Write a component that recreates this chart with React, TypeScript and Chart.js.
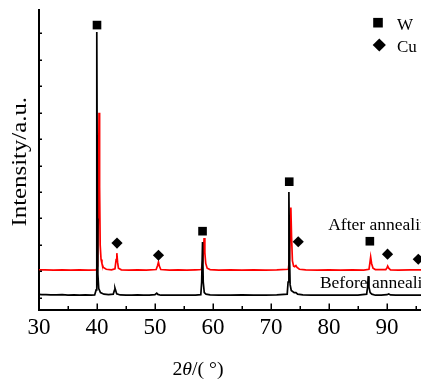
import React, { useEffect, useRef } from "react";
import { Chart, registerables } from "chart.js";

Chart.register(...registerables);

// ---- data ----
const xMajorTicks = [30, 40, 50, 60, 70, 80, 90];
const xMinorTicks = [35, 45, 55, 65, 75, 85, 95];
const yTickValues = [0, 1, 2, 3, 4, 5, 6, 7, 8, 9, 10];

const beforeX = [
  30.0, 30.5, 31.2, 32.0, 33.0, 34.0, 35.0, 36.0, 37.0, 38.0, 39.0, 39.6, 39.85, 39.93, 40.0, 40.07, 40.15, 40.3, 40.6,
  41.2, 42.0, 42.8, 43.0, 43.1, 43.2, 43.4, 44.0, 45.0, 46.0, 47.0, 48.0, 49.0, 50.0, 50.3, 50.5, 51.0, 52.0, 53.0,
  54.0, 55.0, 56.0, 57.0, 57.9, 58.05, 58.2, 58.32, 58.5, 58.8, 59.5, 61.0, 63.0, 65.0, 67.0, 69.0, 71.0, 72.8, 72.95,
  73.09, 73.2, 73.3, 73.5, 74.0, 74.3, 74.6, 75.5, 77.0, 79.0, 81.0, 83.0, 85.0, 86.5, 86.65, 86.78, 86.9, 87.1, 87.4,
  88.0, 89.0, 90.0, 90.3, 90.6, 91.5, 93.0, 94.5, 95.9,
];
const beforeY = [
  0.13, 0.12, 0.12, 0.11, 0.11, 0.12, 0.1, 0.11, 0.1, 0.11, 0.1, 0.11, 0.3, 2.5, 10.05, 3.0, 0.9, 0.35, 0.2,
  0.14, 0.12, 0.14, 0.28, 0.37, 0.3, 0.15, 0.11, 0.1, 0.1, 0.11, 0.1, 0.1, 0.12, 0.18, 0.13, 0.1, 0.1, 0.1,
  0.1, 0.1, 0.1, 0.1, 0.12, 0.6, 2.11, 0.6, 0.2, 0.14, 0.11, 0.1, 0.1, 0.11, 0.1, 0.1, 0.11, 0.14, 0.6,
  4.0, 1.6, 0.5, 0.28, 0.2, 0.2, 0.14, 0.11, 0.1, 0.1, 0.1, 0.1, 0.1, 0.14, 0.4, 0.82, 0.4, 0.2, 0.14,
  0.1, 0.1, 0.12, 0.15, 0.11, 0.1, 0.1, 0.1, 0.1,
];

const afterX = [
  30.0, 31.0, 32.5, 34.0, 35.5, 37.0, 38.5, 39.9, 40.1, 40.22, 40.35, 40.45, 40.55, 40.7, 40.85, 41.1, 41.6, 42.5,
  43.1, 43.3, 43.42, 43.55, 43.7, 44.2, 45.5, 47.0, 48.5, 50.2, 50.45, 50.6, 50.75, 51.0, 52.5, 54.0, 55.5, 57.0,
  58.0, 58.25, 58.47, 58.6, 58.75, 59.0, 59.5, 61.0, 63.0, 65.0, 67.0, 69.0, 71.0, 73.0, 73.2, 73.43, 73.55, 73.7,
  73.9, 74.1, 74.3, 74.5, 74.9, 76.0, 78.0, 80.0, 82.0, 84.0, 86.0, 86.9, 87.05, 87.19, 87.35, 87.6, 88.0, 89.8,
  90.0, 90.12, 90.3, 90.6, 92.0, 94.0, 95.9,
];
const afterY = [
  1.06, 1.06, 1.05, 1.06, 1.05, 1.06, 1.05, 1.06, 1.2, 3.0, 7.0, 4.2, 2.0, 1.45, 1.3, 1.15, 1.08, 1.06,
  1.1, 1.45, 1.69, 1.35, 1.12, 1.06, 1.05, 1.06, 1.05, 1.07, 1.22, 1.35, 1.2, 1.07, 1.05, 1.06, 1.05, 1.06,
  1.07, 1.4, 2.26, 1.7, 1.3, 1.12, 1.07, 1.05, 1.06, 1.05, 1.06, 1.05, 1.06, 1.08, 1.5, 3.41, 2.3, 1.4,
  1.2, 1.18, 1.22, 1.15, 1.08, 1.06, 1.05, 1.06, 1.05, 1.06, 1.05, 1.08, 1.3, 1.54, 1.3, 1.12, 1.07, 1.07,
  1.13, 1.2, 1.12, 1.06, 1.05, 1.06, 1.06,
];

const wX = [40.0, 58.2, 73.15, 87.05];
const wY = [10.31, 2.52, 4.39, 2.14];
const cuX = [43.45, 50.6, 74.7, 90.1, 95.4];
const cuY = [2.07, 1.61, 2.12, 1.65, 1.46];

const curveLabels = ["After annealing", "Before annealing"];
const curveLabelX = [79.87, 78.44];
const curveLabelY = [2.56, 0.36];

const legendLabels = ["W", "Cu"];
const yTitle = "Intensity/a.u.";

const SERIF = "'Liberation Serif', 'Times New Roman', serif";

const toPoints = (xs: number[], ys: number[]) => xs.map((x, i) => ({ x, y: ys[i] }));

const tickPlugin = {
  id: "inwardTicks",
  afterDraw(chart: any) {
    const { ctx, chartArea } = chart;
    const xs = chart.scales.x;
    const ys = chart.scales.y;
    ctx.save();
    ctx.strokeStyle = "#000";
    ctx.lineWidth = 1.5;
    ctx.beginPath();
    xMajorTicks.forEach((v) => {
      const px = Math.round(xs.getPixelForValue(v)) + 0.25;
      ctx.moveTo(px, chartArea.bottom);
      ctx.lineTo(px, chartArea.bottom - 6);
    });
    xMinorTicks.forEach((v) => {
      const px = Math.round(xs.getPixelForValue(v)) + 0.25;
      ctx.moveTo(px, chartArea.bottom);
      ctx.lineTo(px, chartArea.bottom - 3.5);
    });
    yTickValues.forEach((v) => {
      const py = Math.round(ys.getPixelForValue(v)) + 0.25;
      ctx.moveTo(chartArea.left, py);
      ctx.lineTo(chartArea.left + 3, py);
    });
    ctx.stroke();
    ctx.restore();
  },
};

const curveLabelPlugin = {
  id: "curveLabels",
  beforeDatasetsDraw(chart: any) {
    const { ctx } = chart;
    const xs = chart.scales.x;
    const ys = chart.scales.y;
    ctx.save();
    ctx.fillStyle = "#000";
    ctx.font = `17.5px ${SERIF}`;
    ctx.textAlign = "left";
    ctx.textBaseline = "alphabetic";
    curveLabels.forEach((t, i) => {
      ctx.fillText(t, xs.getPixelForValue(curveLabelX[i]), ys.getPixelForValue(curveLabelY[i]));
    });
    ctx.restore();
  },
};

const legendAndTitlesPlugin = {
  id: "legendTitles",
  afterDraw(chart: any) {
    const { ctx } = chart;
    ctx.save();
    ctx.fillStyle = "#000";
    // legend
    const sqCx = 378, sqCy = 22.7, sq = 9.6;
    ctx.fillRect(sqCx - sq / 2, sqCy - sq / 2, sq, sq);
    const dCx = 379.3, dCy = 45, dr = 6.6;
    ctx.beginPath();
    ctx.moveTo(dCx - dr, dCy);
    ctx.lineTo(dCx, dCy - dr);
    ctx.lineTo(dCx + dr, dCy);
    ctx.lineTo(dCx, dCy + dr);
    ctx.closePath();
    ctx.fill();
    ctx.font = `17px ${SERIF}`;
    ctx.textAlign = "left";
    ctx.textBaseline = "alphabetic";
    ctx.fillText(legendLabels[0], 397, 30);
    ctx.fillText(legendLabels[1], 397, 51.7);

    // y title
    ctx.save();
    ctx.translate(26, 161.7);
    ctx.rotate(-Math.PI / 2);
    ctx.scale(1.24, 1);
    ctx.font = `20px ${SERIF}`;
    ctx.textAlign = "center";
    ctx.fillText(yTitle, 0, 0);
    ctx.restore();

    // x title: 2θ/( °) with italic theta
    ctx.save();
    const parts = [
      { t: "2", f: `18px ${SERIF}` },
      { t: "\u03B8", f: `italic 18px ${SERIF}` },
      { t: "/( \u00B0)", f: `18px ${SERIF}` },
    ];
    let total = 0;
    const widths = parts.map((p) => {
      ctx.font = p.f;
      const w = ctx.measureText(p.t).width;
      total += w;
      return w;
    });
    const sx = 1.1;
    ctx.translate(198 - (total * sx) / 2, 375);
    ctx.scale(sx, 1);
    let off = 0;
    ctx.textAlign = "left";
    parts.forEach((p, i) => {
      ctx.font = p.f;
      ctx.fillText(p.t, off, 0);
      off += widths[i];
    });
    ctx.restore();

    ctx.restore();
  },
};

export default function App() {
  const ref = useRef<HTMLCanvasElement | null>(null);

  useEffect(() => {
    if (!ref.current) return;
    const chart = new Chart(ref.current, {
      type: "line",
      data: {
        datasets: [
          {
            label: "W",
            data: toPoints(wX, wY),
            showLine: false,
            pointStyle: "rect",
            pointRadius: 6.1,
            pointBackgroundColor: "#000",
            pointBorderWidth: 0,
            borderColor: "#000",
            backgroundColor: "#000",
            order: 0,
            clip: false,
          } as any,
          {
            label: "Cu",
            data: toPoints(cuX, cuY),
            showLine: false,
            pointStyle: "rectRot",
            pointRadius: 5.6,
            pointBackgroundColor: "#000",
            pointBorderWidth: 0,
            borderColor: "#000",
            backgroundColor: "#000",
            order: 0,
            clip: false,
          } as any,
          {
            label: "Before annealing",
            data: toPoints(beforeX, beforeY),
            borderColor: "#000000",
            borderWidth: 1.7,
            pointRadius: 0,
            tension: 0,
            order: 1,
          },
          {
            label: "After annealing",
            data: toPoints(afterX, afterY),
            borderColor: "#ff0000",
            borderWidth: 1.7,
            pointRadius: 0,
            tension: 0,
            order: 2,
          },
        ],
      },
      options: {
        animation: false,
        responsive: false,
        events: [],
        layout: { autoPadding: false, padding: { top: 10, left: 0, right: 0, bottom: 0 } },
        plugins: {
          legend: { display: false },
          tooltip: { enabled: false },
        },
        scales: {
          x: {
            type: "linear",
            position: "bottom",
            min: 30,
            max: 95.87,
            grid: { display: false, drawTicks: false },
            border: { display: true, color: "#000", width: 2 },
            ticks: {
              stepSize: 10,
              includeBounds: false,
              autoSkip: false,
              maxRotation: 0,
              padding: 5,
              color: "#000",
              font: { family: SERIF, size: 23 },
            },
            afterFit: (s: any) => {
              s.height = 382 - 309.5;
              s.paddingLeft = 0;
              s.paddingRight = 0;
            },
          },
          y: {
            type: "linear",
            min: -0.44,
            max: 10.88,
            grid: { display: false, drawTicks: false },
            border: { display: true, color: "#000", width: 2 },
            ticks: { display: false },
            afterFit: (s: any) => {
              s.width = 39;
              s.paddingTop = 0;
              s.paddingBottom = 0;
            },
          },
        },
      },
      plugins: [curveLabelPlugin, tickPlugin, legendAndTitlesPlugin],
    });
    return () => chart.destroy();
  }, []);

  return (
    <div style={{ position: "absolute", left: 0, top: 0, width: 421, height: 382, background: "#fff" }}>
      <canvas ref={ref} width={421} height={382} style={{ display: "block" }} />
    </div>
  );
}
